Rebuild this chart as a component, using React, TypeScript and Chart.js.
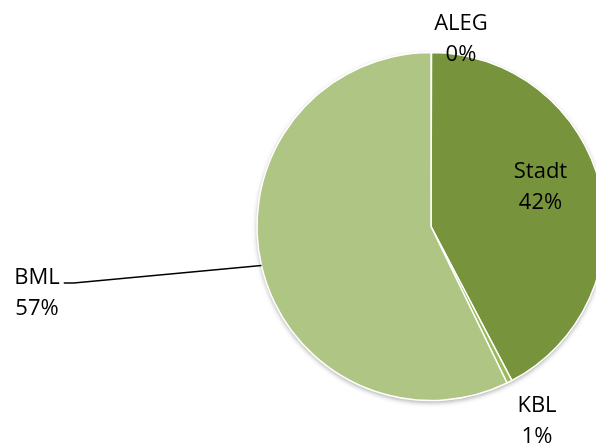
import React, { useEffect, useRef } from "react";
import { Chart, registerables } from "chart.js";

Chart.register(...registerables);

// ---- data ----
const categories = ["ALEG", "Stadt", "KBL", "BML"];
const shares = [0.05, 42.25, 0.5, 57.2];
const sliceColors = ["#4F6228", "#77933C", "#9BBB59", "#AEC583"];

// ---- label layout (offsets from pie centre, px) ----
const labelOffsets: [number, number][] = [
  [30, -197],
  [109.5, -49],
  [106, 185.5],
  [-394, 57.5],
];
const hasLeader = [false, false, false, true];

const FONT = '22px "Open Sans"';
const LINE_GAP = 31;

const shadowPlugin = {
  id: "pieShadow",
  beforeDatasetsDraw(chart: any) {
    const meta = chart.getDatasetMeta(0);
    const arc = meta.data[0];
    if (!arc) return;
    const { x, y, outerRadius } = arc.getProps(["x", "y", "outerRadius"], true);
    const ctx = chart.ctx;
    ctx.save();
    ctx.beginPath();
    ctx.arc(x, y, outerRadius, 0, Math.PI * 2);
    ctx.fillStyle = "#ffffff";
    ctx.shadowColor = "rgba(0,0,0,0.35)";
    ctx.shadowBlur = 5;
    ctx.shadowOffsetX = 0;
    ctx.shadowOffsetY = 2;
    ctx.fill();
    ctx.restore();
  },
};

const labelPlugin = {
  id: "pieLabels",
  afterDatasetsDraw(chart: any) {
    const meta = chart.getDatasetMeta(0);
    const data = chart.data.datasets[0].data as number[];
    const total = data.reduce((a, b) => a + b, 0);
    const ctx = chart.ctx;
    ctx.save();
    ctx.font = FONT;
    ctx.fillStyle = "#000000";
    ctx.textAlign = "center";
    ctx.textBaseline = "alphabetic";
    meta.data.forEach((arc: any, i: number) => {
      const { x, y, startAngle, endAngle, outerRadius } = arc.getProps(
        ["x", "y", "startAngle", "endAngle", "outerRadius"],
        true
      );
      const lx = x + labelOffsets[i][0];
      const ly = y + labelOffsets[i][1];
      const name = String(chart.data.labels[i]);
      const pct = Math.round((data[i] / total) * 100) + "%";
      ctx.fillText(name, lx, ly);
      ctx.fillText(pct, lx, ly + LINE_GAP);
      if (hasLeader[i]) {
        const mid = (startAngle + endAngle) / 2;
        const ex = x + Math.cos(mid) * outerRadius;
        const ey = y + Math.sin(mid) * outerRadius;
        const w = ctx.measureText(name).width;
        const sx = lx + w / 2 + 4;
        const sy = ly - 1;
        ctx.beginPath();
        ctx.moveTo(sx, sy);
        ctx.lineTo(sx + 10, sy);
        ctx.lineTo(ex, ey);
        ctx.strokeStyle = "#000000";
        ctx.lineWidth = 1.5;
        ctx.stroke();
      }
    });
    ctx.restore();
  },
};

export default function App() {
  const ref = useRef<HTMLCanvasElement | null>(null);
  useEffect(() => {
    if (!ref.current) return;
    const chart = new Chart(ref.current, {
      type: "pie",
      data: {
        labels: categories,
        datasets: [
          {
            data: shares,
            backgroundColor: sliceColors,
            borderColor: "#ffffff",
            borderWidth: 1.5,
          },
        ],
      },
      options: {
        responsive: false,
        animation: false,
        radius: 174,
        layout: { padding: { left: 257, right: 95, top: 52, bottom: 45 } },
        plugins: {
          legend: { display: false },
          tooltip: { enabled: false },
          title: { display: false },
        },
      } as any,
      plugins: [shadowPlugin, labelPlugin],
    });
    return () => chart.destroy();
  }, []);
  return (
    <div
      style={{
        position: "absolute",
        left: 0,
        top: 0,
        width: 596,
        height: 446,
        overflow: "hidden",
        background: "#ffffff",
      }}
    >
      <canvas ref={ref} width={700} height={446} style={{ width: 700, height: 446 }} />
    </div>
  );
}
